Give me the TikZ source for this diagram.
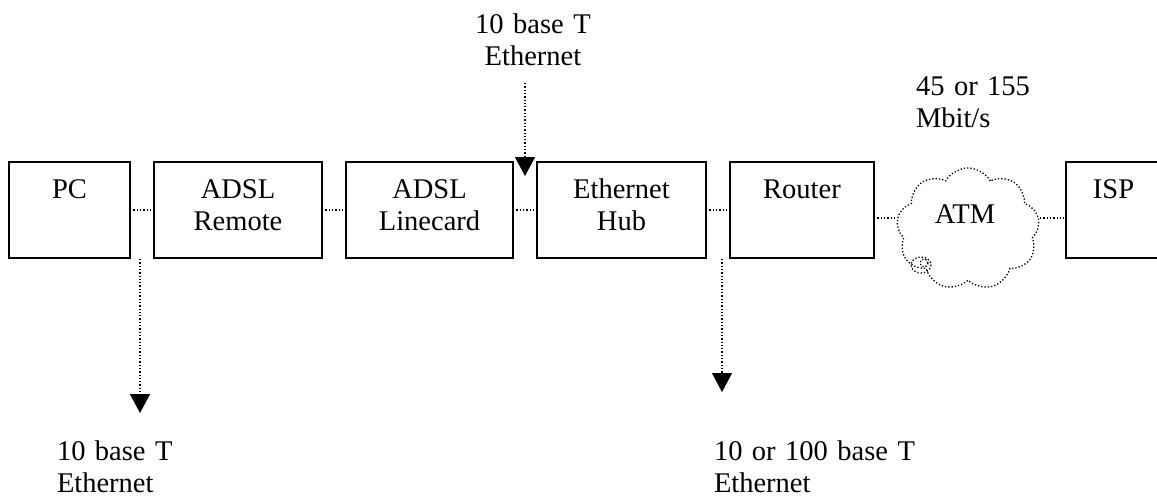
\documentclass[tikz,border=0pt]{standalone}
\usepackage{fontspec}
\setmainfont[WordSpace=0.75]{Liberation Serif}
\usetikzlibrary{arrows.meta,shapes.symbols,calc}
\begin{document}
\begin{tikzpicture}[x=1pt,y=-1pt,
  every node/.style={font=\fontsize{28.5}{32}\selectfont, inner sep=0pt, outer sep=0pt},
  unit/.style={draw, line width=1.6pt, minimum height=96pt},
  tag/.style={text width=200pt, align=center, anchor=base},
  note/.style={text width=260pt, align=left, anchor=base west},
  link/.style={line width=1.3pt, dotted},
  feed/.style={line width=1.3pt, dotted, -{Triangle[width=20pt,length=19pt]}}]
\useasboundingbox (0,0) rectangle (1157,498);

% equipment boxes along the access chain
\node[unit, minimum width=121pt] (pc)       at (69.5,210)  {};
\node[unit, minimum width=168pt] (remote)   at (238,210)   {};
\node[unit, minimum width=167pt] (linecard) at (429.5,210) {};
\node[unit, minimum width=169pt] (hub)      at (621.5,210) {};
\node[unit, minimum width=144pt] (router)   at (802,210)   {};
\node[unit, minimum width=95pt]  (isp)      at (1113.5,210) {};

% box captions, set from the top edge
\node[tag] (pcl)       at ($(pc.north)+(0,36)$)       {PC};
\node[tag] (remotel)   at ($(remote.north)+(0,36)$)   {ADSL\\Remote};
\node[tag] (linecardl) at ($(linecard.north)+(0,36)$) {ADSL\\Linecard};
\node[tag] (hubl)      at ($(hub.north)+(0,36)$)      {Ethernet\\Hub};
\node[tag] (routerl)   at ($(router.north)+(0,36)$)   {Router};
\node[tag] (ispl)      at ($(isp.north)+(0,36)$)      {ISP};

% ATM network cloud with its small curl
\node[cloud, draw, line width=1.3pt, dotted, cloud puffs=9, cloud puff arc=120,
      minimum width=143pt, minimum height=122pt, aspect=1.17] (atmcloud) at (968,229) {};
\draw[link] (921,265) ellipse [x radius=10, y radius=8];
\draw[link] (924,263) circle [radius=4];
\node[anchor=base] (atm) at (965,223) {ATM};
\coordinate (cw) at (897,218);
\coordinate (ce) at (1040,218);

% links between the boxes
\draw[link] (pc.east) -- (remote.west);
\draw[link] (remote.east) -- (linecard.west);
\draw[link] (linecard.east) -- (hub.west);
\draw[link] (hub.east) -- (router.west);
\draw[link] (router.east |- cw) -- (cw);
\draw[link] (ce) -- (isp.west |- ce);

% interface annotations
\node[tag] (topnote) at (533,33) {10 base T\\Ethernet};
\node[note] (atmrate) at (916,95) {45 or 155\\Mbit/s};
\node[note] (pcnote) at (57,460) {10 base T\\Ethernet};
\node[note] (hubnote) at (714,460) {10 or 100 base T\\Ethernet};

\coordinate (hubsrc) at (525,83);
\coordinate (hubin)  at (525,176);
\coordinate (pcout)  at (140,259);
\coordinate (pctap)  at (140,413);
\coordinate (rtout)  at (722,259);
\coordinate (rttap)  at (722,392);
\draw[feed] (hubsrc) -- (hubin);
\draw[feed] (pcout) -- (pctap);
\draw[feed] (rtout) -- (rttap);
\end{tikzpicture}
\end{document}
